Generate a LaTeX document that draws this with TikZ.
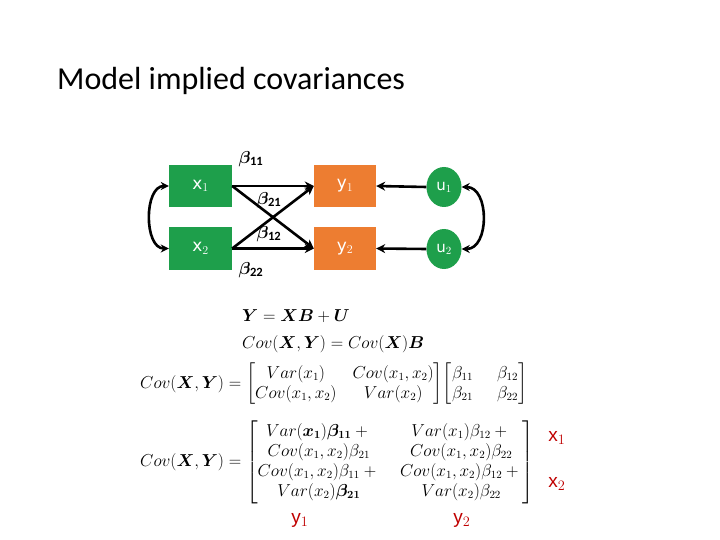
\documentclass[tikz,border=0pt]{standalone}
\usepackage{amsmath}
\usepackage{bm}
\usepackage{fontspec}
\setmainfont{Carlito}
\newfontfamily\boxfont{DejaVu Sans}
\newfontfamily\lblfont{Liberation Sans}
\usetikzlibrary{arrows.meta,shapes.geometric}
\definecolor{cgreen}{HTML}{1E9F4B}
\definecolor{corange}{HTML}{ED7D31}
\definecolor{cred}{HTML}{C00000}
\tikzset{
  xbox/.style={rectangle, fill=cgreen, minimum width=63pt, minimum height=42pt, inner sep=0pt, text=white, font=\boxfont\fontsize{17}{20}\selectfont},
  ybox/.style={rectangle, fill=corange, minimum width=62pt, minimum height=42pt, inner sep=0pt, text=white, font=\boxfont\fontsize{17}{20}\selectfont},
  uell/.style={ellipse, fill=cgreen, minimum width=35pt, minimum height=40pt, inner sep=0pt, text=white, font=\boxfont\fontsize{15}{18}\selectfont},
  conn/.style={line width=2.6pt, -{Stealth[length=9pt,width=9pt]}},
  cov/.style={line width=2.6pt, {Stealth[length=8pt,width=8pt]}-{Stealth[length=8pt,width=8pt]}},
  blabel/.style={font=\fontsize{18}{21}\selectfont, inner sep=0pt},
  eq/.style={font=\fontsize{16}{20}\selectfont, inner sep=0pt, anchor=west},
  redlbl/.style={text=cred, font=\lblfont\fontsize{19}{22}\selectfont, inner sep=0pt}
}
\begin{document}
\begin{tikzpicture}[x=1pt,y=-1pt]
\useasboundingbox[fill=white] (0,0) rectangle (720,540);
\node[anchor=west, inner sep=0pt, font=\fontsize{32}{38}\selectfont] (title) at (57,81) {Model implied covariances};

\node[xbox] (x1) at (200.5,186) {x$_1$};
\node[xbox] (x2) at (200.5,248.5) {x$_2$};
\node[ybox] (y1) at (345,186) {y$_1$};
\node[ybox] (y2) at (345,248.5) {y$_2$};
\node[uell] (u1) at (444,187) {u$_1$};
\node[uell] (u2) at (444,249) {u$_2$};

\draw[conn] (x1.east) -- (y1.west);
\draw[conn] (x1.east) -- (y2.west);
\draw[conn] (x2.east) -- (y1.west);
\draw[conn] (x2.east) -- (y2.west);
\draw[conn] (u1.west) -- (y1.east);
\draw[conn] (u2.west) -- (y2.east);
\draw[cov] (x1.west) .. controls +(-25,0) and +(-25,0) .. (x2.west);
\draw[cov] (u1.east) .. controls +(28,0) and +(28,0) .. (u2.east);

\node[blabel] (b11) at (251,159) {$\bm{\beta}_{\mathbf{11}}$};
\node[blabel] (b21) at (269,200) {$\bm{\beta}_{\mathbf{21}}$};
\node[blabel] (b12) at (269,234) {$\bm{\beta}_{\mathbf{12}}$};
\node[blabel] (b22) at (251,270) {$\bm{\beta}_{\mathbf{22}}$};

\node[eq] (e1) at (242,316) {$\bm{Y}=\bm{XB}+\bm{U}$};
\node[eq] (e2) at (242,344) {$Cov(\bm{X},\bm{Y})=Cov(\bm{X})\bm{B}$};
\node[eq] (e3) at (140,384) {$Cov(\bm{X},\bm{Y})=\begin{bmatrix} Var(x_1) & \hspace{6pt}Cov(x_1,x_2)\\ Cov(x_1,x_2) & \hspace{6pt}Var(x_2)\end{bmatrix}\!\begin{bmatrix}\beta_{11} & \hspace{14pt}\beta_{12}\\ \beta_{21} & \hspace{14pt}\beta_{22}\end{bmatrix}$};
\node[eq] (e4) at (140,462) {$Cov(\bm{X},\bm{Y})=\left[\begin{matrix} Var(\bm{x_1})\bm{\beta_{11}}+{} & \hspace{10pt}Var(x_1)\beta_{12}+{}\\[0pt] Cov(x_1,x_2)\beta_{21} & \hspace{10pt}Cov(x_1,x_2)\beta_{22}\\[0pt] Cov(x_1,x_2)\beta_{11}+{} & \hspace{10pt}Cov(x_1,x_2)\beta_{12}+{}\\[0pt] Var(x_2)\bm{\beta_{21}} & \hspace{10pt}Var(x_2)\beta_{22}\end{matrix}\right]$};

\node[redlbl] (lx1) at (557,438) {x$_1$};
\node[redlbl] (lx2) at (557,484) {x$_2$};
\node[redlbl] (ly1) at (300,520) {y$_1$};
\node[redlbl] (ly2) at (462,520) {y$_2$};
\end{tikzpicture}
\end{document}
